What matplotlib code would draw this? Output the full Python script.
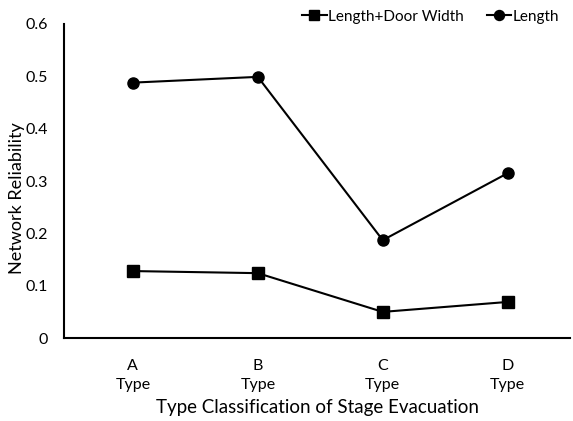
import matplotlib.pyplot as plt

# data
categories = ['A\nType', 'B\nType', 'C\nType', 'D\nType']
length_door = [0.128, 0.124, 0.050, 0.069]
length_only = [0.488, 0.499, 0.187, 0.315]
yticks = [0, 0.1, 0.2, 0.3, 0.4, 0.5, 0.6]
ytick_labels = ['0', '0.1', '0.2', '0.3', '0.4', '0.5', '0.6']

plt.rcParams['font.family'] = ['Lato', 'DejaVu Sans']

fig = plt.figure(figsize=(5.73, 4.21), dpi=100)
ax = fig.add_axes([0.112, 0.197, 0.883, 0.746])

x = list(range(len(categories)))
ax.plot(x, length_door, color='black', linewidth=1.5, marker='s', markersize=8,
        label='Length+Door Width')
ax.plot(x, length_only, color='black', linewidth=1.5, marker='o', markersize=8,
        label='Length')

ax.set_xlim(-0.55, 3.5)
ax.set_ylim(0, 0.6)
ax.set_yticks(yticks)
ax.set_yticklabels(ytick_labels)
ax.set_xticks(x)
ax.set_xticklabels(categories, linespacing=1.5)
ax.tick_params(axis='both', length=0, labelsize=11.5, colors='black')
ax.tick_params(axis='x', pad=15)
ax.tick_params(axis='y', pad=12)

for s in ['top', 'right']:
    ax.spines[s].set_visible(False)
for s in ['left', 'bottom']:
    ax.spines[s].set_linewidth(1.5)

ax.set_xlabel('Type Classification of Stage Evacuation', fontsize=13.5, labelpad=5)
fig.text(17 / 573, 0.53, 'Network Reliability', rotation=90, fontsize=13,
         ha='center', va='center')

fig.legend(loc='upper right', bbox_to_anchor=(1.0, 1.01), ncol=2, frameon=False,
           fontsize=11, handlelength=1.6, handletextpad=0.1, columnspacing=1.5,
           markerscale=0.9)

plt.savefig('out.png', dpi=100)
